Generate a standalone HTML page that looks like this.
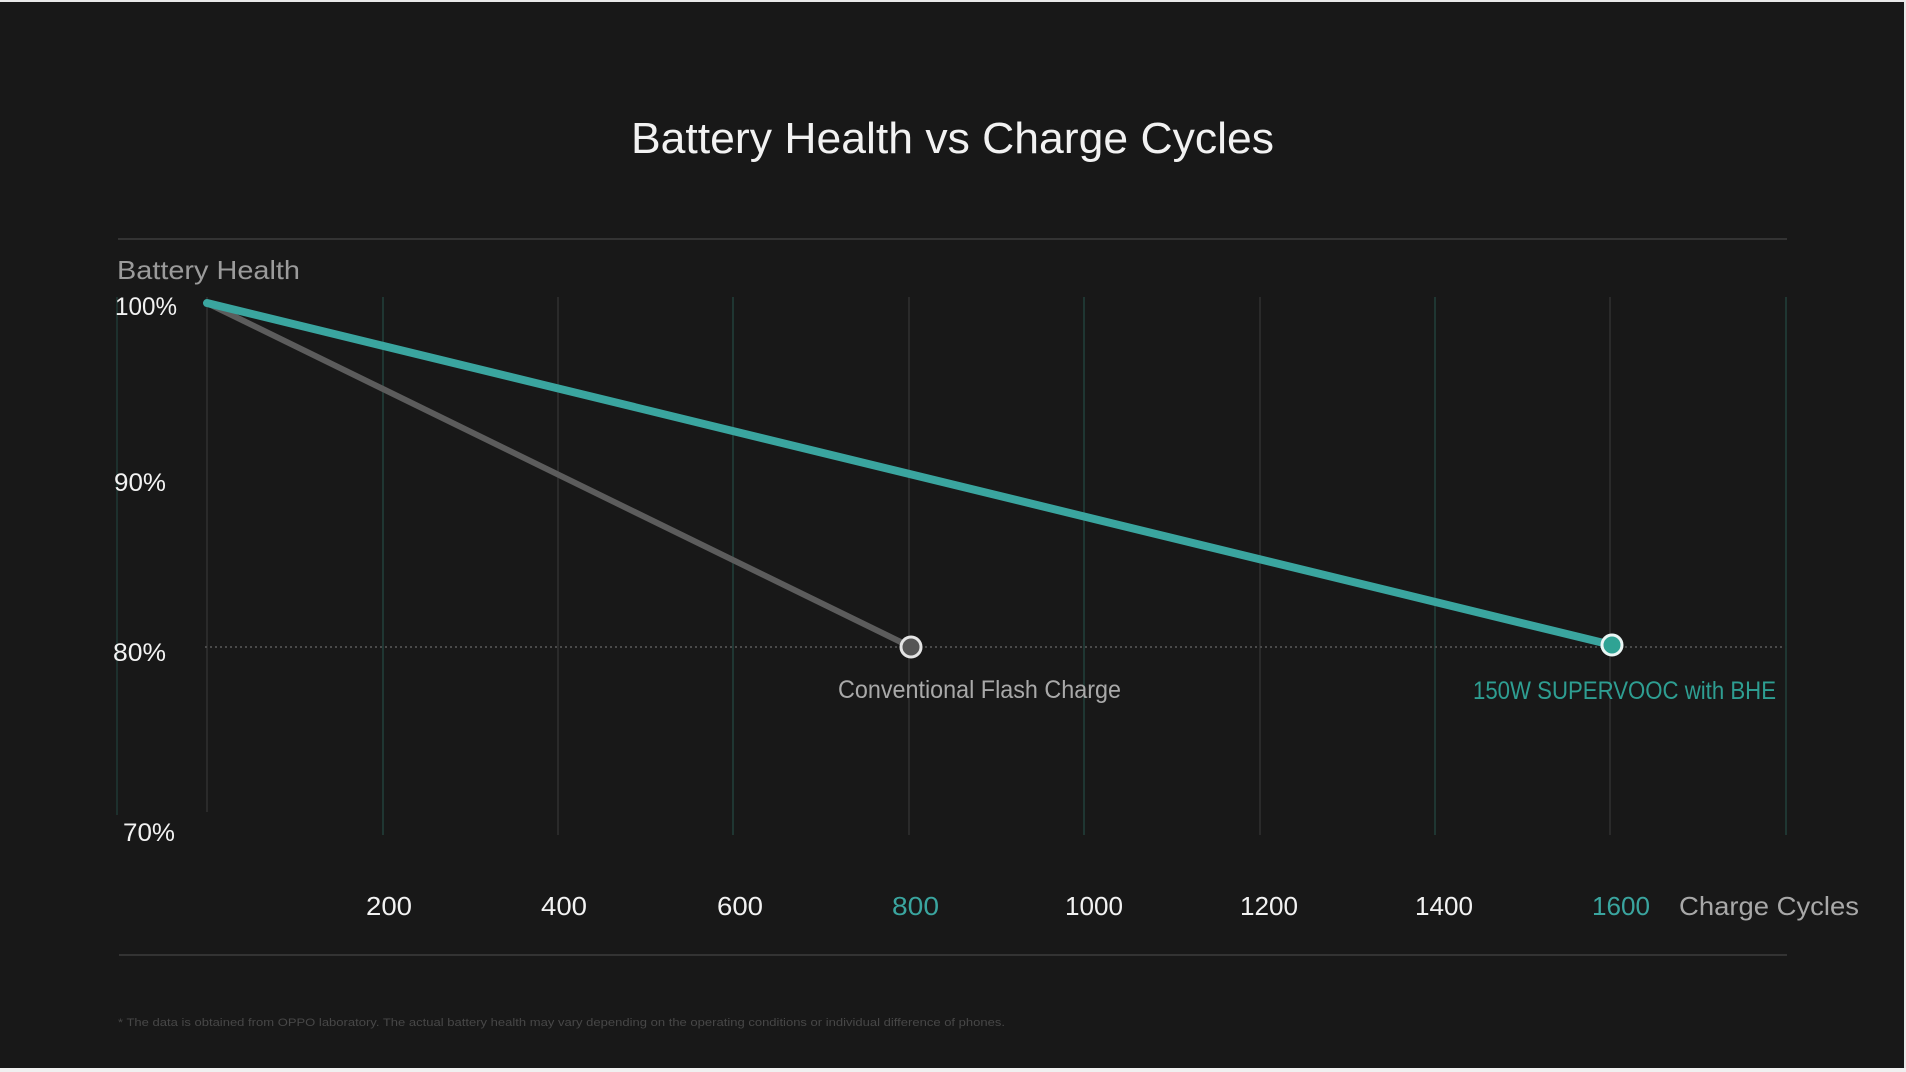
<!DOCTYPE html>
<html>
<head>
<meta charset="utf-8">
<style>
  html,body{margin:0;padding:0;background:#181818;}
  body{width:1906px;height:1072px;overflow:hidden;}
  svg{display:block;}
  text{font-family:"Liberation Sans", Arial, sans-serif;}
</style>
</head>
<body>
<svg width="1906" height="1072" viewBox="0 0 1906 1072" xmlns="http://www.w3.org/2000/svg">
  <rect x="0" y="0" width="1906" height="1072" fill="#181818"/>
  <!-- light edges -->
  <rect x="0" y="0" width="1906" height="2" fill="#e8e8e8"/>
  <rect x="1904" y="0" width="2" height="1072" fill="#e8e8e8"/>
  <rect x="0" y="1068" width="1906" height="4" fill="#f0f0f0"/>

  <!-- title -->
  <text x="631" y="153" font-size="44" fill="#f2f2f2" textLength="643" lengthAdjust="spacingAndGlyphs">Battery Health vs Charge Cycles</text>

  <!-- frame lines -->
  <line x1="118" y1="239" x2="1787" y2="239" stroke="#333333" stroke-width="2"/>
  <line x1="119" y1="955" x2="1787" y2="955" stroke="#333333" stroke-width="2"/>

  <!-- vertical grid -->
  <g stroke-width="2">
    <line x1="117" y1="297" x2="117" y2="815" stroke="#1d302d"/>
    <line x1="207" y1="297" x2="207" y2="812" stroke="#2a2a2a"/>
    <line x1="383" y1="297" x2="383" y2="835" stroke="#1f3632"/>
    <line x1="558" y1="297" x2="558" y2="835" stroke="#2a2a2a"/>
    <line x1="733" y1="297" x2="733" y2="835" stroke="#1f3632"/>
    <line x1="909" y1="297" x2="909" y2="835" stroke="#2a2a2a"/>
    <line x1="1084" y1="297" x2="1084" y2="835" stroke="#1f3632"/>
    <line x1="1260" y1="297" x2="1260" y2="835" stroke="#2a2a2a"/>
    <line x1="1435" y1="297" x2="1435" y2="835" stroke="#1f3632"/>
    <line x1="1610" y1="297" x2="1610" y2="835" stroke="#2a2a2a"/>
    <line x1="1786" y1="297" x2="1786" y2="835" stroke="#1f3632"/>
  </g>

  <!-- dotted 80% line -->
  <line x1="205" y1="647" x2="1785" y2="647" stroke="#4a4a4a" stroke-width="2" stroke-dasharray="2 3"/>

  <!-- series -->
  <line x1="207" y1="303" x2="911" y2="647" stroke="#5c5c5c" stroke-width="6" stroke-linecap="round"/>
  <line x1="207" y1="303" x2="1612" y2="645" stroke="#3aa59f" stroke-width="8" stroke-linecap="round"/>

  <!-- markers -->
  <circle cx="911" cy="647" r="10" fill="#555555" stroke="#e4e4e4" stroke-width="3"/>
  <circle cx="1612" cy="645" r="10" fill="#2fa394" stroke="#eaf6f4" stroke-width="3"/>

  <!-- y axis -->
  <text x="117" y="279" font-size="26" fill="#9b9b9b" textLength="183" lengthAdjust="spacingAndGlyphs">Battery Health</text>
  <text x="115" y="315" font-size="25" fill="#f2f2f2" textLength="62" lengthAdjust="spacingAndGlyphs">100%</text>
  <text x="114" y="491" font-size="25" fill="#f2f2f2" textLength="52" lengthAdjust="spacingAndGlyphs">90%</text>
  <text x="113" y="661" font-size="25" fill="#f2f2f2" textLength="53" lengthAdjust="spacingAndGlyphs">80%</text>
  <text x="123" y="841" font-size="25" fill="#f2f2f2" textLength="52" lengthAdjust="spacingAndGlyphs">70%</text>

  <!-- series labels -->
  <text x="838" y="698" font-size="25" fill="#a9a9a9" textLength="283" lengthAdjust="spacingAndGlyphs">Conventional Flash Charge</text>
  <text x="1473" y="699" font-size="25" fill="#2e9e92" textLength="303" lengthAdjust="spacingAndGlyphs">150W SUPERVOOC with BHE</text>

  <!-- x axis -->
  <g font-size="26">
    <text x="366" y="915" fill="#f2f2f2" textLength="46" lengthAdjust="spacingAndGlyphs">200</text>
    <text x="541" y="915" fill="#f2f2f2" textLength="46" lengthAdjust="spacingAndGlyphs">400</text>
    <text x="717" y="915" fill="#f2f2f2" textLength="46" lengthAdjust="spacingAndGlyphs">600</text>
    <text x="892" y="915" fill="#3aa59f" textLength="47" lengthAdjust="spacingAndGlyphs">800</text>
    <text x="1065" y="915" fill="#f2f2f2" textLength="58" lengthAdjust="spacingAndGlyphs">1000</text>
    <text x="1240" y="915" fill="#f2f2f2" textLength="58" lengthAdjust="spacingAndGlyphs">1200</text>
    <text x="1415" y="915" fill="#f2f2f2" textLength="58" lengthAdjust="spacingAndGlyphs">1400</text>
    <text x="1592" y="915" fill="#3aa59f" textLength="58" lengthAdjust="spacingAndGlyphs">1600</text>
    <text x="1679" y="915" fill="#a8a8a8" textLength="180" lengthAdjust="spacingAndGlyphs">Charge Cycles</text>
  </g>

  <!-- footnote -->
  <text x="118" y="1026" font-size="11" fill="#474747" textLength="887" lengthAdjust="spacingAndGlyphs">* The data is obtained from OPPO laboratory. The actual battery health may vary depending on the operating conditions or individual difference of phones.</text>
</svg>
</body>
</html>
